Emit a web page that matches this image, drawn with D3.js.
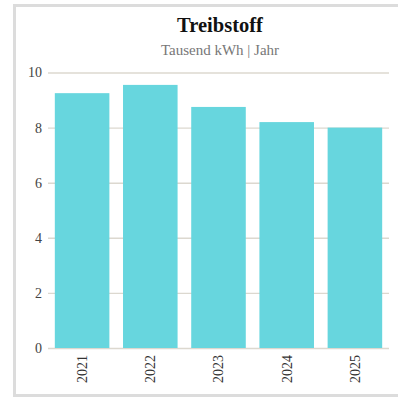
<!DOCTYPE html>
<html>
<head>
<meta charset="utf-8">
<script src="https://cdn.jsdelivr.net/npm/d3@7"></script>
<style>
  html, body { margin: 0; padding: 0; background: #fff; }
  svg { display: block; }
</style>
</head>
<body>
<svg id="chart" width="398" height="398"></svg>
<script>
// Fuel consumption per year (thousand kWh)
const years = ["2021", "2022", "2023", "2024", "2025"];
const values = [9.25, 9.55, 8.75, 8.2, 8.0];
const yTicks = [0, 2, 4, 6, 8, 10];
const titleText = "Treibstoff";
const subtitleText = "Tausend kWh | Jahr";

const svg = d3.select("#chart");
const W = 398, H = 398;

// card frame
svg.append("rect")
  .attr("x", 14.5).attr("y", 5.5)
  .attr("width", W + 20).attr("height", 390)
  .attr("fill", "#fff")
  .attr("stroke", "#dcdcdc")
  .attr("stroke-width", 3);

const margin = { left: 48, right: 9, top: 72.5, bottom: 50 };
const plotW = W - margin.left - margin.right;
const plotH = H - margin.top - margin.bottom;

svg.append("text")
  .attr("x", 220).attr("y", 32)
  .attr("text-anchor", "middle")
  .attr("font-family", "'Liberation Serif', serif")
  .attr("font-weight", "bold")
  .attr("font-size", 20.5)
  .attr("fill", "#111")
  .text(titleText);

svg.append("text")
  .attr("x", 220).attr("y", 55)
  .attr("text-anchor", "middle")
  .attr("font-family", "'Liberation Serif', serif")
  .attr("font-size", 15)
  .attr("fill", "#777")
  .text(subtitleText);

const g = svg.append("g").attr("transform", `translate(${margin.left},${margin.top})`);

const x = d3.scaleBand().domain(years).range([0, plotW]).paddingInner(0.2).paddingOuter(0.1);
const y = d3.scaleLinear().domain([0, 10]).range([plotH, 0]);

// y axis with full-width gridlines
const yAxis = g.append("g")
  .call(d3.axisLeft(y).tickValues(yTicks).tickSize(-plotW).tickPadding(6).tickFormat(d3.format("d")));
yAxis.select(".domain").remove();
yAxis.selectAll(".tick line").attr("stroke", "#dcd8cf").attr("stroke-width", 1.4);
yAxis.selectAll(".tick text")
  .attr("font-family", "'Liberation Serif', serif")
  .attr("font-size", 14)
  .attr("fill", "#444");

g.selectAll("rect.bar")
  .data(values)
  .join("rect")
  .attr("class", "bar")
  .attr("x", (d, i) => x(years[i]))
  .attr("width", x.bandwidth())
  .attr("y", d => y(d))
  .attr("height", d => y(0) - y(d))
  .attr("fill", "#67d6de");

// x axis labels, rotated
const xAxis = g.append("g")
  .attr("transform", `translate(0,${plotH})`)
  .call(d3.axisBottom(x).tickSize(0).tickPadding(0));
xAxis.select(".domain").remove();
xAxis.selectAll(".tick text")
  .attr("font-family", "'Liberation Serif', serif")
  .attr("font-size", 14)
  .attr("fill", "#333")
  .attr("transform", "rotate(-90)")
  .attr("text-anchor", "end")
  .attr("dy", "0.35em")
  .attr("x", -7)
  .attr("y", 0);
</script>
</body>
</html>
